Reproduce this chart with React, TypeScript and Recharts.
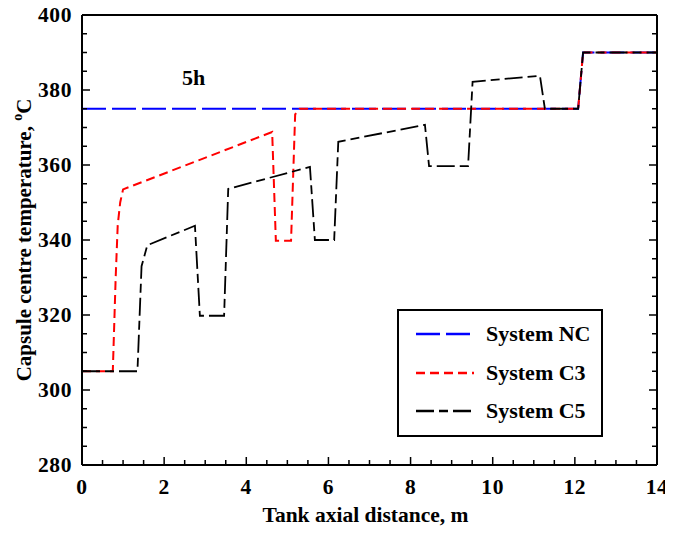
import React from 'react';
import { LineChart, Line, XAxis, YAxis, Legend, ReferenceDot } from 'recharts';

// Capsule centre temperature along the tank after 5 h, three system configurations
const ncDistance = [0, 12.08, 12.2, 14];
const ncTemp = [375, 375, 390, 390];

const c3Distance = [0, 0.75, 0.82, 0.87, 0.93, 1.0, 4.63, 4.72, 5.09, 5.19, 5.3, 12.08, 12.2, 14];
const c3Temp = [305, 305, 330, 344, 350, 353.5, 368.8, 339.8, 339.8, 373.5, 375, 375, 390, 390];

const c5Distance = [0, 1.35, 1.45, 1.59, 2.75, 2.87, 3.46, 3.56, 5.55, 5.67, 6.14, 6.24, 8.35, 8.45, 9.4, 9.51, 11.15, 11.27, 12.08, 12.2, 14];
const c5Temp = [305, 305, 333, 338.6, 343.8, 319.8, 319.8, 353.6, 359.5, 340, 340, 366.2, 370.7, 359.7, 359.7, 382.2, 383.8, 375, 375, 390, 390];

const seriesNames = ['System NC', 'System C3', 'System C5'];

const xMajorTicks = [0, 2, 4, 6, 8, 10, 12, 14];
const xAllTicks = [0, 0.5, 1, 1.5, 2, 2.5, 3, 3.5, 4, 4.5, 5, 5.5, 6, 6.5, 7, 7.5, 8, 8.5, 9, 9.5, 10, 10.5, 11, 11.5, 12, 12.5, 13, 13.5, 14];
const yMajorTicks = [280, 300, 320, 340, 360, 380, 400];
const yAllTicks = [280, 285, 290, 295, 300, 305, 310, 315, 320, 325, 330, 335, 340, 345, 350, 355, 360, 365, 370, 375, 380, 385, 390, 395, 400];

const timeLabel = '5h';
const timeLabelX = 2.72;
const timeLabelY = 383.2;

const zip = (xs: number[], ys: number[]) => xs.map((d, i) => ({ d, t: ys[i] }));
const ncData = zip(ncDistance, ncTemp);
const c3Data = zip(c3Distance, c3Temp);
const c5Data = zip(c5Distance, c5Temp);

const FONT = '"Liberation Serif", "Times New Roman", Times, serif';
const MAJOR = 8;
const MINOR = 5;

const seriesStyles = [
  { color: '#0000ff', dash: '24 6', width: 2 },
  { color: '#ff0000', dash: '9 5', width: 2 },
  { color: '#000000', dash: '18 5 9 5', width: 1.8 },
];

const BottomTick = (props: any) => {
  const { x, y, payload } = props;
  const major = xMajorTicks.includes(payload.value);
  return (
    <g>
      <line x1={x} x2={x} y1={y} y2={y - (major ? MAJOR : MINOR)} stroke="#000" strokeWidth={1.5} />
      {major && (
        <text x={x} y={y + 29} textAnchor="middle" fontFamily={FONT} fontWeight="bold" fontSize={21.5} letterSpacing={0.6} fill="#000">
          {payload.value}
        </text>
      )}
    </g>
  );
};

const TopTick = (props: any) => {
  const { x, y, payload } = props;
  const major = xMajorTicks.includes(payload.value);
  return <line x1={x} x2={x} y1={y} y2={y + (major ? MAJOR : MINOR)} stroke="#000" strokeWidth={1.5} />;
};

const LeftTick = (props: any) => {
  const { x, y, payload } = props;
  const major = yMajorTicks.includes(payload.value);
  return (
    <g>
      <line x1={x} x2={x + (major ? MAJOR : MINOR)} y1={y} y2={y} stroke="#000" strokeWidth={1.5} />
      {major && (
        <text x={x - 10} y={y + 7} textAnchor="end" fontFamily={FONT} fontWeight="bold" fontSize={21.5} letterSpacing={0.6} fill="#000">
          {payload.value}
        </text>
      )}
    </g>
  );
};

const RightTick = (props: any) => {
  const { x, y, payload } = props;
  const major = yMajorTicks.includes(payload.value);
  return <line x1={x} x2={x - (major ? MAJOR : MINOR)} y1={y} y2={y} stroke="#000" strokeWidth={1.5} />;
};

const XTitle = (props: any) => {
  const { x, y, width } = props.viewBox;
  return (
    <text x={x + width / 2 - 4} y={y + 57} textAnchor="middle" fontFamily={FONT} fontWeight="bold" fontSize={21.5} fill="#000">
      Tank axial distance, m
    </text>
  );
};

const YTitle = (props: any) => {
  const { y, height } = props.viewBox;
  const cx = 31;
  const cy = y + height / 2;
  return (
    <text
      x={cx}
      y={cy}
      transform={`rotate(-90 ${cx} ${cy})`}
      textAnchor="middle"
      fontFamily={FONT}
      fontWeight="bold"
      fontSize={21}
      fill="#000"
    >
      Capsule centre temperature,{' '}
      <tspan fontSize={14} dy={-9}>o</tspan>
      <tspan dy={9}>C</tspan>
    </text>
  );
};

const TimeTag = (props: any) => {
  const { x, y } = props.viewBox;
  return (
    <text x={x} y={y + 7} textAnchor="middle" fontFamily={FONT} fontWeight="bold" fontSize={22} fill="#000">
      {timeLabel}
    </text>
  );
};

const LegendBox = () => (
  <div
    style={{
      position: 'relative',
      boxSizing: 'border-box',
      width: 206,
      height: 128,
      border: '2px solid #000',
      background: '#fff',
      fontFamily: FONT,
      fontWeight: 'bold',
      fontSize: 22,
    }}
  >
    {seriesNames.map((name, i) => {
      const s = seriesStyles[i];
      const top = 23 + i * 38.5;
      return (
        <div key={name}>
          <svg width={58} height={6} style={{ position: 'absolute', left: 17, top: top - 3 }}>
            <line x1={0} x2={58} y1={3} y2={3} stroke={s.color} strokeWidth={2.5} strokeDasharray={s.dash} />
          </svg>
          <span style={{ position: 'absolute', left: 87, top: top - 14, lineHeight: '28px', whiteSpace: 'nowrap' }}>
            {name}
          </span>
        </div>
      );
    })}
  </div>
);

export default function App() {
  return (
    <LineChart
      width={673}
      height={535}
      margin={{ top: 14, right: 15, left: 0, bottom: 0 }}
      style={{ marginTop: -8, marginLeft: -8 }}
    >
      <XAxis
        dataKey="d"
        type="number"
        domain={[0, 14]}
        ticks={xAllTicks}
        interval={0}
        allowDataOverflow
        height={70}
        tickSize={0}
        tickMargin={0}
        tick={BottomTick}
        tickLine={false}
        axisLine={{ stroke: '#000', strokeWidth: 2 }}
        label={<XTitle />}
      />
      <XAxis
        xAxisId="top"
        orientation="top"
        type="number"
        domain={[0, 14]}
        ticks={xAllTicks}
        interval={0}
        allowDataOverflow
        height={1}
        tickSize={0}
        tickMargin={0}
        tick={TopTick}
        tickLine={false}
        axisLine={{ stroke: '#000', strokeWidth: 2 }}
      />
      <YAxis
        type="number"
        domain={[280, 400]}
        ticks={yAllTicks}
        interval={0}
        allowDataOverflow
        width={82}
        tickSize={0}
        tickMargin={0}
        tick={LeftTick}
        tickLine={false}
        axisLine={{ stroke: '#000', strokeWidth: 2 }}
        label={<YTitle />}
      />
      <YAxis
        yAxisId="right"
        orientation="right"
        type="number"
        domain={[280, 400]}
        ticks={yAllTicks}
        interval={0}
        allowDataOverflow
        width={1}
        tickSize={0}
        tickMargin={0}
        tick={RightTick}
        tickLine={false}
        axisLine={{ stroke: '#000', strokeWidth: 2 }}
      />
      <Line
        data={ncData}
        dataKey="t"
        name={seriesNames[0]}
        type="linear"
        stroke={seriesStyles[0].color}
        strokeWidth={seriesStyles[0].width}
        strokeDasharray={seriesStyles[0].dash}
        dot={false}
        activeDot={false}
        isAnimationActive={false}
      />
      <Line
        data={c3Data}
        dataKey="t"
        name={seriesNames[1]}
        type="linear"
        stroke={seriesStyles[1].color}
        strokeWidth={seriesStyles[1].width}
        strokeDasharray={seriesStyles[1].dash}
        dot={false}
        activeDot={false}
        isAnimationActive={false}
      />
      <Line
        data={c5Data}
        dataKey="t"
        name={seriesNames[2]}
        type="linear"
        stroke={seriesStyles[2].color}
        strokeWidth={seriesStyles[2].width}
        strokeDasharray={seriesStyles[2].dash}
        dot={false}
        activeDot={false}
        isAnimationActive={false}
      />
      <ReferenceDot x={timeLabelX} y={timeLabelY} r={0} fill="none" stroke="none" label={<TimeTag />} ifOverflow="visible" />
      <Legend
        layout="vertical"
        align="center"
        verticalAlign="middle"
        content={<LegendBox />}
        wrapperStyle={{ left: 397, top: 309, width: 206, height: 128 }}
      />
    </LineChart>
  );
}
